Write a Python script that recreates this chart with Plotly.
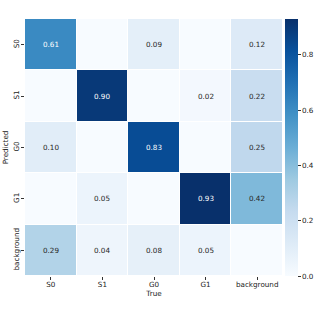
import plotly.graph_objects as go
import plotly.colors as pc

classes = ["S0", "S1", "G0", "G1", "background"]
# rows = Predicted, columns = True ; None = blank cell
row_S0 = [0.61, None, 0.09, None, 0.12]
row_S1 = [None, 0.90, None, 0.02, 0.22]
row_G0 = [0.10, None, 0.83, None, 0.25]
row_G1 = [None, 0.05, None, 0.93, 0.42]
row_bg = [0.29, 0.04, 0.08, 0.05, None]
rows = [row_S0, row_S1, row_G0, row_G1, row_bg]
cbar_ticks = [0.0, 0.2, 0.4, 0.6, 0.8]

z = [[(v if v is not None else 0.0) for v in r] for r in rows]
text = [[(f"{v:.2f}" if v is not None else "") for v in r] for r in rows]
zmax = max(v for r in rows for v in r if v is not None)

FS = 7.2

fig = go.Figure()
fig.add_trace(go.Heatmap(
    z=z, x=classes, y=classes,
    colorscale=pc.sequential.Blues, zmin=0, zmax=zmax,
    xgap=1, ygap=1,
    hoverinfo="skip",
    colorbar=dict(
        x=1.0078, xanchor="left", xpad=0, y=0, yanchor="bottom", ypad=0,
        len=1, lenmode="fraction", thickness=13, outlinewidth=0,
        tickvals=cbar_ticks, tickformat=".1f", ticks="outside", ticklen=3,
        tickcolor="#333", tickfont=dict(size=FS, color="#222"),
    ),
))

annots = []
for i, r in enumerate(rows):
    for j, v in enumerate(r):
        if v is None:
            continue
        annots.append(dict(
            x=classes[j], y=classes[i], text=text[i][j], showarrow=False,
            font=dict(size=FS, color="white" if v / zmax > 0.6 else "#262626"),
        ))

fig.update_layout(
    width=317, height=317,
    margin=dict(l=25, r=34, t=19, b=41, autoexpand=False),
    paper_bgcolor="white", plot_bgcolor="white",
    font=dict(family="DejaVu Sans", size=FS, color="#222"),
    annotations=annots,
    xaxis=dict(title=dict(text="True", font=dict(size=FS), standoff=2),
               automargin=False, ticklabelstandoff=-2,
               ticks="outside", ticklen=3, tickcolor="#333", showgrid=False,
               zeroline=False, showline=False, tickfont=dict(size=FS)),
    yaxis=dict(title=dict(text="Predicted", font=dict(size=FS), standoff=2),
               automargin=False, ticklabelstandoff=-1,
               autorange="reversed", ticks="outside", ticklen=3, tickcolor="#333",
               tickangle=-90, showgrid=False, zeroline=False, showline=False,
               tickfont=dict(size=FS)),
)

fig.write_html("out.html", config={"displayModeBar": False},
               post_script="document.body.style.margin='0';")
